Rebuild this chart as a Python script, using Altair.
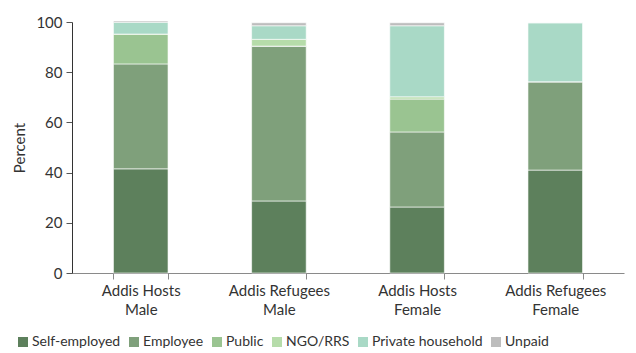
import altair as alt
import pandas as pd

groups = ["Addis Hosts|Male", "Addis Refugees|Male", "Addis Hosts|Female", "Addis Refugees|Female"]
categories = ["Self-employed", "Employee", "Public", "NGO/RRS", "Private household", "Unpaid"]
colors = ["#5d805c", "#7fa07b", "#9ac491", "#b6dcaa", "#a9d9c6", "#bdbdbd"]

self_employed = [41.5, 28.7, 26.3, 41.0]
employee = [41.8, 61.7, 29.9, 35.2]
public = [11.9, 0.0, 13.1, 0.0]
ngo = [0.0, 2.7, 0.9, 0.0]
private_household = [4.7, 5.4, 28.3, 23.5]
unpaid = [0.5, 1.2, 1.2, 0.0]

series = [self_employed, employee, public, ngo, private_household, unpaid]
rows = []
for ci, (cat, vals) in enumerate(zip(categories, series)):
    for g, v in zip(groups, vals):
        rows.append({"group": g, "category": cat, "order": ci, "value": v})
df = pd.DataFrame(rows)

font = "Lato"

chart = alt.Chart(df).mark_bar(stroke="white", strokeWidth=0.6).encode(
    x=alt.X("group:N", sort=groups, title=None,
            scale=alt.Scale(paddingInner=0.605, paddingOuter=0.3),
            axis=alt.Axis(labelExpr="split(datum.label, '|')", labelAngle=0,
                          tickBand="extent", domainColor="#8a8a8a", tickColor="#8a8a8a",
                          labelFont=font, labelFontSize=15, labelColor="#333333",
                          labelPadding=4, labelLineHeight=19, tickSize=6)),
    y=alt.Y("value:Q", stack="zero", title="Percent",
            scale=alt.Scale(domain=[0, 100]),
            axis=alt.Axis(values=[0, 20, 40, 60, 80, 100], grid=False,
                          domainColor="#333333", tickColor="#555555", tickSize=6,
                          labelFont=font, labelFontSize=15, labelColor="#333333",
                          titleFont=font, titleFontSize=15, titleColor="#333333",
                          titleFontWeight="normal", labelPadding=4, titlePadding=8)),
    color=alt.Color("category:N", sort=categories,
                    scale=alt.Scale(domain=categories, range=colors),
                    legend=alt.Legend(title=None, orient="none", direction="horizontal",
                                      legendX=-56, legendY=313,
                                      symbolType="square", symbolSize=100,
                                      symbolStrokeWidth=0, labelFont=font,
                                      labelFontSize=14, labelColor="#333333",
                                      labelOffset=2, columnPadding=6)),
    order=alt.Order("order:Q", sort="ascending"),
).properties(
    width=552, height=251,
    autosize=alt.AutoSizeParams(type="none"),
    padding={"left": 64, "top": 14, "right": 4, "bottom": 80},
).configure_view(stroke=None)

chart.save("out.html", embed_options={"renderer": "svg", "actions": False})
